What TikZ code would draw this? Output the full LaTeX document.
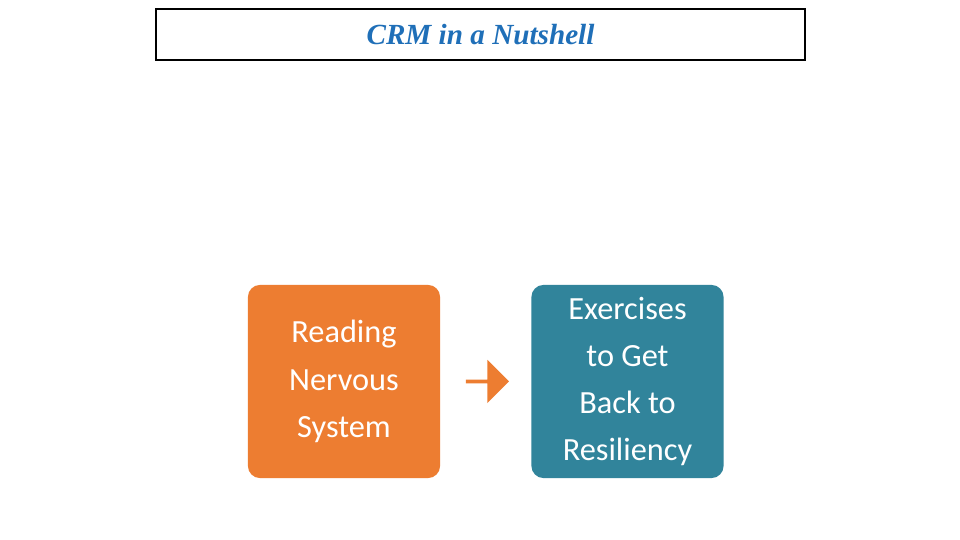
\documentclass[tikz,border=0pt]{standalone}
\usepackage{fontspec}
\setmainfont{Carlito}
\newfontfamily\titlefont{Liberation Serif}
\usetikzlibrary{shapes.arrows}
\definecolor{orangebox}{HTML}{ED7D31}
\definecolor{tealbox}{HTML}{31849B}
\definecolor{titleblue}{HTML}{1F6FB8}
\tikzset{
  box/.style={rounded corners=0.12cm, minimum width=1.92cm, minimum height=1.93cm, text=white, align=center, font=\fontsize{9.2}{13.4}\selectfont},
}
\begin{document}
\begin{tikzpicture}[x=0.01cm,y=-0.01cm]
\useasboundingbox[fill=white] (0,0) rectangle (960,540);
\node[draw=black, line width=0.6pt, minimum width=6.49cm, minimum height=0.51cm, font=\titlefont\bfseries\itshape\fontsize{8.3}{10}\selectfont, text=titleblue] (title) at (480.5,34.5) {CRM in a Nutshell};
\node[box, fill=orangebox] (a) at (344,381.5) {Reading\\Nervous\\System};
\node[box, fill=tealbox] (b) at (627.5,381.5) {Exercises\\to Get\\Back to\\Resiliency};
\node[single arrow, fill=orangebox, minimum width=0.43cm, minimum height=0.43cm, single arrow head extend=0.07cm, inner sep=0pt, single arrow tip angle=90] (arr) at (486.5,381.5) {};
\end{tikzpicture}
\end{document}
